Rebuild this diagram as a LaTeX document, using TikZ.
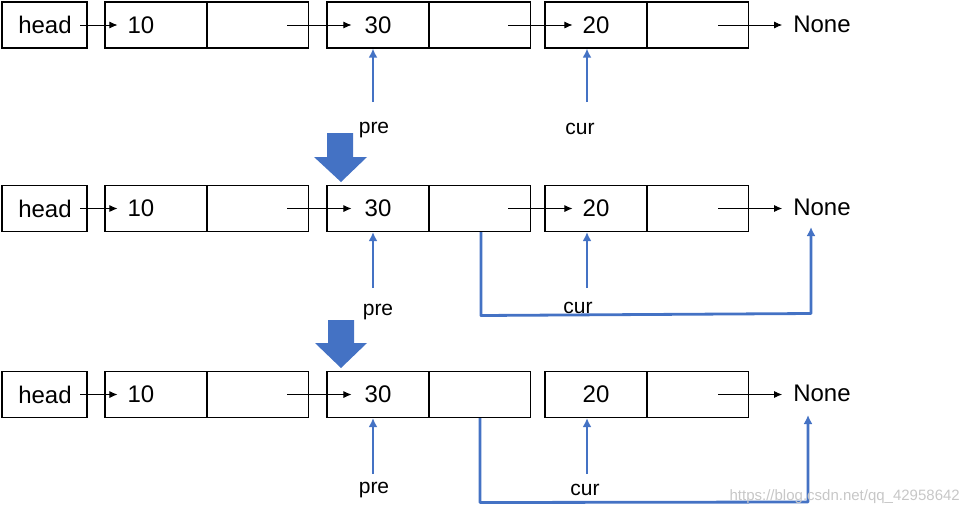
\documentclass[tikz,border=0pt]{standalone}
\usepackage{fontspec}
\setmainfont{Liberation Sans}
\usetikzlibrary{arrows.meta}
\definecolor{myblue}{HTML}{4472C4}
\begin{document}
\begin{tikzpicture}[x=1pt,y=-1pt,
  headbox/.style={draw=black,line width=1.2pt,minimum width=85pt,minimum height=46pt,inner sep=0},
  cell/.style={draw=black,line width=1.2pt,minimum width=102pt,minimum height=46pt,inner sep=0},
  val/.style={font=\fontsize{24}{24}\selectfont,inner sep=0},
  lbl/.style={font=\fontsize{21}{21}\selectfont,inner sep=0},
  ptr/.style={-{Latex[length=8pt,width=7pt]},line width=0.8pt,draw=black},
  bptr/.style={-{Latex[length=9pt,width=9pt]},line width=2.8pt,draw=myblue},
  broute/.style={-{Latex[length=9pt,width=9pt]},line width=2.8pt,draw=myblue,line join=round},
  bigarrow/.style={fill=myblue,draw=none}]
\useasboundingbox (0,0) rectangle (968,517);
% rows of the list
\foreach \r/\y in {1/25,2/208.5,3/394.5}{
  \node[headbox] (h\r) at (44.5,\y) {};
  \node[cell] (a\r) at (156,\y) {};
  \node[cell] (an\r) at (257.5,\y) {};
  \node[cell] (b\r) at (378,\y) {};
  \node[cell] (bn\r) at (479.5,\y) {};
  \node[cell] (c\r) at (596,\y) {};
  \node[cell] (cn\r) at (697.5,\y) {};
  \node[val] (th\r) at (45,\y) {head};
  \node[val] (ta\r) at (141,\y) {10};
  \node[val] (tb\r) at (378,\y) {30};
  \node[val] (tc\r) at (596,\y) {20};
  \node[val] (none\r) at (822,\y-1) {None};
  \coordinate (sh\r) at (80,\y);
  \coordinate (sa\r) at (287,\y);
  \coordinate (sc\r) at (718,\y);
  \draw[ptr] (sh\r) -- ([xshift=-10pt]ta\r.west |- sh\r);
  \draw[ptr] (sa\r) -- ([xshift=-13pt]tb\r.west |- sa\r);
  \draw[ptr] (sc\r) -- ([xshift=-11pt]none\r.west |- sc\r);
}
% 30 -> 20 (rows 1 and 2 only)
\coordinate (sb1) at (508,25);
\coordinate (sb2) at (508,208.5);
\draw[ptr] (sb1) -- ([xshift=-10pt]tc1.west |- sb1);
\draw[ptr] (sb2) -- ([xshift=-10pt]tc2.west |- sb2);
% pre / cur labels
\node[lbl] (pre1) at (374,130) {pre};
\node[lbl] (cur1) at (580,129) {cur};
\node[lbl] (pre2) at (378,312) {pre};
\node[lbl] (cur2) at (578,308) {cur};
\node[lbl] (pre3) at (374,490) {pre};
\node[lbl] (cur3) at (585,490) {cur};
% pointer arrows
\coordinate (pp1) at (373,102); \coordinate (cp1) at (587,102);
\coordinate (pp2) at (373,288); \coordinate (cp2) at (587,288);
\coordinate (pp3) at (373,474); \coordinate (cp3) at (587,474);
\foreach \r in {1,2,3}{
  \draw[bptr] (pp\r) -- (pp\r |- b\r.south);
  \draw[bptr] (cp\r) -- (cp\r |- c\r.south);
}
% re-linking routes
\coordinate (r2a) at (481,232); \coordinate (r2b) at (481,315.5);
\coordinate (r2c) at (811,313.5); \coordinate (r2d) at (811,227);
\draw[broute] (r2a) -- (r2b) -- (r2c) -- (r2d);
\coordinate (r3a) at (480,418); \coordinate (r3b) at (480,502.5);
\coordinate (r3c) at (808,502); \coordinate (r3d) at (808,415);
\draw[broute] (r3a) -- (r3b) -- (r3c) -- (r3d);
% big down arrows
\fill[bigarrow] (327,133) -- (353,133) -- (353,157) -- (367,157) -- (341,182) -- (314,157) -- (327,157) -- cycle;
\fill[bigarrow] (328,320) -- (354,320) -- (354,343) -- (367,343) -- (341,368) -- (315,343) -- (328,343) -- cycle;
% watermark
\node[font=\fontsize{15}{15}\selectfont,text=black!22,inner sep=0,anchor=east] (wm) at (960,497) {https://blog.csdn.net/qq\_42958642};
\end{tikzpicture}
\end{document}
